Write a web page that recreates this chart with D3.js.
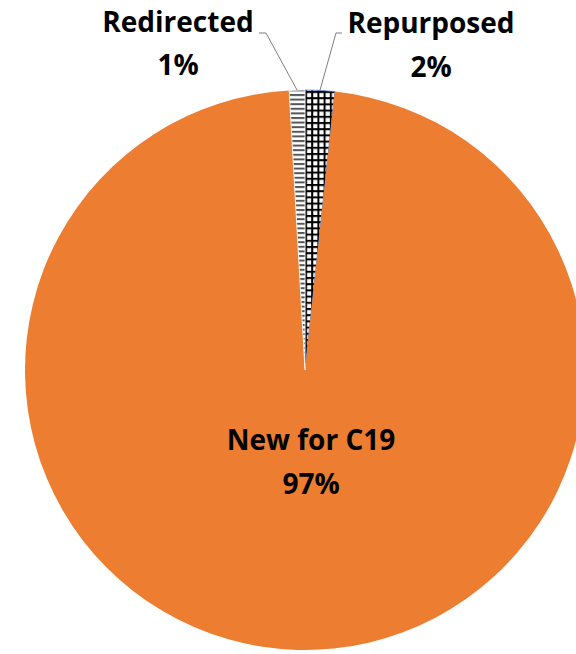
<!DOCTYPE html>
<html>
<head>
<meta charset="utf-8">
<script src="https://cdn.jsdelivr.net/npm/d3@7"></script>
<style>
  html, body { margin: 0; padding: 0; background: #fff; }
  svg { display: block; }
</style>
</head>
<body>
<div id="chart"></div>
<script>
const width = 576;
const height = 654;

// data, clockwise from 12 o'clock
const categories = ["Repurposed", "New for C19", "Redirected"];
const shares = [1.7, 97.4, 0.9];

const cx = 305, cy = 370, radius = 280;

const svg = d3.select("#chart").append("svg")
    .attr("width", width)
    .attr("height", height)
    .attr("viewBox", [0, 0, width, height]);

const defs = svg.append("defs");

// horizontal line pattern (Redirected)
const hp = defs.append("pattern")
    .attr("id", "hlines")
    .attr("patternUnits", "userSpaceOnUse")
    .attr("width", 8).attr("height", 4.6);
hp.append("rect").attr("width", 8).attr("height", 4.6).attr("fill", "#fff");
hp.append("rect").attr("y", 0).attr("width", 8).attr("height", 2).attr("fill", "#555");

// grid pattern (Repurposed)
const gp = defs.append("pattern")
    .attr("id", "grid")
    .attr("patternUnits", "userSpaceOnUse")
    .attr("width", 6.2).attr("height", 6.2);
gp.append("rect").attr("width", 6.2).attr("height", 6.2).attr("fill", "#000");
gp.append("rect").attr("x", 2).attr("y", 2).attr("width", 4.2).attr("height", 4.2).attr("fill", "#fff");

const fills = {"Repurposed": "url(#grid)", "New for C19": "#ED7D31", "Redirected": "url(#hlines)"};
const strokes = {"Repurposed": "#4472C4", "New for C19": "none", "Redirected": "#fff"};

const data = categories.map((c, i) => ({name: c, value: shares[i]}));
const pie = d3.pie().sort(null).value(d => d.value);
const arcs = pie(data);
const arc = d3.arc().innerRadius(0).outerRadius(radius);

const g = svg.append("g").attr("transform", `translate(${cx},${cy})`);

g.selectAll("path")
    .data(arcs)
    .join("path")
    .attr("d", arc)
    .attr("fill", d => fills[d.data.name])
    .attr("stroke", d => strokes[d.data.name])
    .attr("stroke-width", 0.8);

const pct = d => Math.round(d.data.value) + "%";
const font = "'Open Sans', 'DejaVu Sans', sans-serif";

// label placement (absolute page coords)
const labelPos = {
  "Redirected": {x: 178, y1: 32, y2: 75, elbow: [[259, 33], [266, 33]]},
  "Repurposed": {x: 431, y1: 33, y2: 77, elbow: [[342, 33], [336, 33]]},
  "New for C19": {x: 311, y1: 450, y2: 494}
};

const labels = svg.append("g")
    .attr("font-family", font)
    .attr("font-weight", "bold")
    .attr("font-size", 28)
    .attr("text-anchor", "middle")
    .attr("fill", "#000");

arcs.forEach(d => {
  const p = labelPos[d.data.name];
  labels.append("text").attr("x", p.x).attr("y", p.y1).text(d.data.name);
  labels.append("text").attr("x", p.x).attr("y", p.y2).text(pct(d));
  if (p.elbow) {
    const mid = (d.startAngle + d.endAngle) / 2;
    const ex = cx + Math.sin(mid) * radius;
    const ey = cy - Math.cos(mid) * radius;
    svg.append("polyline")
        .attr("points", [...p.elbow, [ex, ey]].map(q => q.join(",")).join(" "))
        .attr("fill", "none")
        .attr("stroke", "#7f7f7f")
        .attr("stroke-width", 1);
  }
});
</script>
</body>
</html>
